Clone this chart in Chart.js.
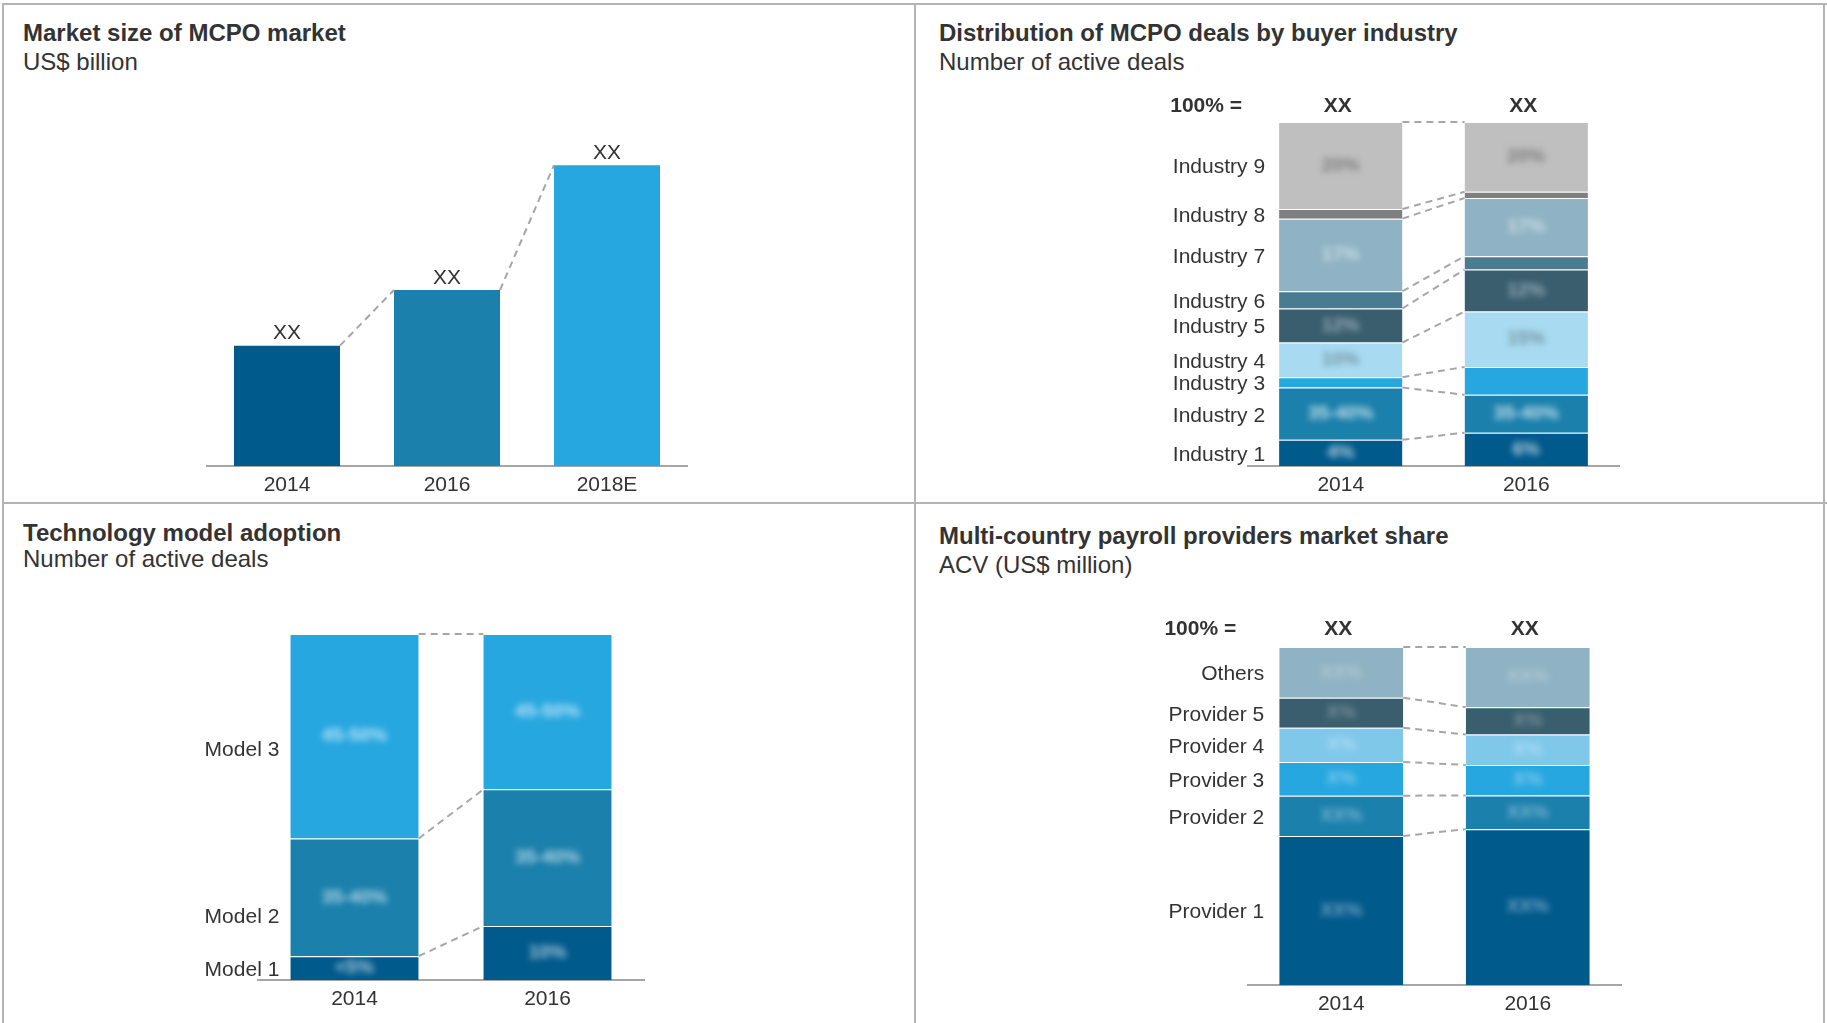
<!DOCTYPE html>
<html><head><meta charset="utf-8">
<script src="https://cdn.jsdelivr.net/npm/chart.js@4.4.0/dist/chart.umd.min.js"></script>
<style>
html,body{margin:0;padding:0;background:#fff;width:1827px;height:1023px;overflow:hidden;font-family:"Liberation Sans",Arial,sans-serif;color:#333}
.ln{position:absolute;background:#b4b4b4}
.t{position:absolute;font-weight:bold;font-size:24px;line-height:28px;white-space:nowrap;color:#333}
.s{position:absolute;font-size:24px;line-height:28px;white-space:nowrap;color:#333}
canvas{position:absolute}
</style></head><body>
<div class="ln" style="left:2px;top:3px;width:1825px;height:2px"></div>
<div class="ln" style="left:2px;top:3px;width:2px;height:1020px"></div>
<div class="ln" style="left:914px;top:3px;width:2px;height:1020px"></div>
<div class="ln" style="left:1823px;top:3px;width:2px;height:1020px"></div>
<div class="ln" style="left:2px;top:502px;width:1825px;height:2px"></div>

<div class="t" style="left:23px;top:19px">Market size of MCPO market</div>
<div class="s" style="left:23px;top:48px">US$ billion</div>
<div class="t" style="left:939px;top:19px">Distribution of MCPO deals by buyer industry</div>
<div class="s" style="left:939px;top:48px">Number of active deals</div>
<div class="t" style="left:23px;top:519px">Technology model adoption</div>
<div class="s" style="left:23px;top:545px">Number of active deals</div>
<div class="t" style="left:939px;top:522px">Multi-country payroll providers market share</div>
<div class="s" style="left:939px;top:551px">ACV (US$ million)</div>

<canvas id="c1" width="915" height="503" style="left:0;top:0"></canvas>
<canvas id="c2" width="911" height="503" style="left:916px;top:0"></canvas>
<canvas id="c3" width="915" height="519" style="left:0;top:504px"></canvas>
<canvas id="c4" width="911" height="519" style="left:916px;top:504px"></canvas>

<script>
// ---------- DATA ----------
// Panel 1: Market size of MCPO market (US$ billion, relative values)
const sizeYears = ['2014', '2016', '2018E'];
const sizeValues = [4.0, 5.85, 10.0];
const sizeValueLabels = ['XX', 'XX', 'XX'];
const sizeColors = ['#005a8c', '#1b80ac', '#27a7e0'];

// Panel 2: Distribution of MCPO deals by buyer industry (%)
const dealYears = ['2014', '2016'];
const dealTotals = ['XX', 'XX'];
const industries = ['Industry 1', 'Industry 2', 'Industry 3', 'Industry 4', 'Industry 5',
                    'Industry 6', 'Industry 7', 'Industry 8', 'Industry 9'];
const industry2014 = [7.6, 15.2, 3.0, 10.1, 9.9, 5.0, 21.1, 2.8, 25.3];
const industry2016 = [9.7, 11.0, 8.1, 16.1, 12.2, 3.9, 16.9, 1.8, 20.3];
const industryInner2014 = ['4%', '35-40%', '', '10%', '12%', '', '17%', '', '20%'];
const industryInner2016 = ['6%', '35-40%', '', '15%', '12%', '', '17%', '', '20%'];
const industryColors = ['#005a8c', '#1b80ac', '#27a7e0', '#a8dbf1', '#3a5e6e',
                        '#4a7b91', '#8fb3c4', '#7f7f7f', '#bfbfbf'];
const industryInnerColors = ['rgba(255,255,255,0.7)', 'rgba(255,255,255,0.75)', '#fff', 'rgba(90,110,120,0.65)',
                             'rgba(200,215,225,0.65)', '#fff', 'rgba(225,235,242,0.75)', '#fff', 'rgba(100,100,100,0.7)'];

// Panel 3: Technology model adoption (%)
const techYears = ['2014', '2016'];
const models = ['Model 1', 'Model 2', 'Model 3'];
const model2014 = [6.9, 34.0, 59.1];
const model2016 = [15.6, 39.5, 44.9];
const modelInner2014 = ['<5%', '35-40%', '45-50%'];
const modelInner2016 = ['10%', '35-40%', '45-50%'];
const modelColors = ['#005a8c', '#1b80ac', '#27a7e0'];
const modelInnerColors = ['rgba(255,255,255,0.65)', 'rgba(255,255,255,0.65)', 'rgba(220,240,252,0.8)'];

// Panel 4: Multi-country payroll providers market share (%)
const shareYears = ['2014', '2016'];
const shareTotals = ['XX', 'XX'];
const providers = ['Provider 1', 'Provider 2', 'Provider 3', 'Provider 4', 'Provider 5', 'Others'];
const provider2014 = [44.1, 11.9, 10.0, 10.1, 8.9, 15.0];
const provider2016 = [46.1, 10.0, 9.0, 9.0, 8.1, 17.8];
const providerInner2014 = ['XX%', 'XX%', 'X%', 'X%', 'X%', 'XX%'];
const providerInner2016 = ['XX%', 'XX%', 'X%', 'X%', 'X%', 'XX%'];
const providerColors = ['#005a8c', '#1b80ac', '#27a7e0', '#7fc8ea', '#3a5e6e', '#8fb3c4'];
const providerInnerColors = ['rgba(160,190,215,0.7)', 'rgba(160,200,225,0.7)', 'rgba(160,215,240,0.75)',
                             'rgba(185,225,245,0.8)', 'rgba(140,160,170,0.75)', 'rgba(185,205,215,0.8)'];

// ---------- HELPERS ----------
const FONT = '"Liberation Sans", Arial, sans-serif';
const TEXT = '#333333';
const DASH = '#a6a6a6';

const decoPlugin = {
  id: 'deco',
  afterDatasetsDraw(chart, args, o) {
    const ctx = chart.ctx;
    const n = chart.data.datasets.length;
    const nCat = chart.data.labels.length;
    const metas = [];
    for (let i = 0; i < n; i++) metas.push(chart.getDatasetMeta(i));
    ctx.save();
    // blurred inner percentage labels
    if (o.inner) {
      ctx.filter = 'blur(3px)';
      ctx.font = 'bold 19px ' + FONT;
      ctx.textAlign = 'center';
      ctx.textBaseline = 'middle';
      for (let k = 0; k < n; k++) {
        for (let j = 0; j < nCat; j++) {
          const txt = o.inner[j][k];
          if (!txt) continue;
          const el = metas[k].data[j];
          ctx.fillStyle = o.innerColors[k];
          ctx.fillText(txt, el.x, (el.y + el.base) / 2);
        }
      }
      ctx.filter = 'none';
    }
    // dashed connectors
    ctx.strokeStyle = DASH;
    ctx.lineWidth = 2;
    ctx.setLineDash([7, 5]);
    for (let k = 0; k < n; k++) {
      for (let j = 0; j < nCat - 1; j++) {
        const a = metas[k].data[j], b = metas[k].data[j + 1];
        ctx.beginPath();
        ctx.moveTo(a.x + a.width / 2, a.y);
        ctx.lineTo(b.x - b.width / 2, b.y);
        ctx.stroke();
      }
    }
    ctx.setLineDash([]);
    // value labels above bars
    if (o.valueLabels) {
      ctx.font = '21px ' + FONT;
      ctx.fillStyle = TEXT;
      ctx.textAlign = 'center';
      ctx.textBaseline = 'middle';
      metas[0].data.forEach((el, j) => ctx.fillText(o.valueLabels[j], el.x, el.y - 12));
    }
    // series labels on the left, centred on first bar's segments
    if (o.seriesLabels) {
      ctx.font = '21px ' + FONT;
      ctx.fillStyle = TEXT;
      ctx.textAlign = 'right';
      ctx.textBaseline = 'middle';
      for (let k = 0; k < n; k++) {
        const el = metas[k].data[0];
        const shift = (o.labelShift ? o.labelShift[k] : 0) + 2;
        ctx.fillText(o.seriesLabels[k], el.x - el.width / 2 - o.labelGap, (el.y + el.base) / 2 + shift);
      }
    }
    // 100% = header
    if (o.totals) {
      const top = metas[n - 1].data[0];
      const yy = top.y - o.headGap;
      ctx.font = 'bold 21px ' + FONT;
      ctx.fillStyle = TEXT;
      ctx.textBaseline = 'middle';
      ctx.textAlign = 'right';
      ctx.fillText('100% =', top.x - top.width / 2 - o.headLeft, yy);
      ctx.textAlign = 'center';
      for (let j = 0; j < nCat; j++) {
        const el = metas[n - 1].data[j];
        ctx.fillText(o.totals[j], el.x - 3, yy);
      }
    }
    ctx.restore();
  }
};

function baseOptions(padding, yMax, deco) {
  return {
    responsive: false,
    animation: false,
    events: [],
    layout: { padding: padding },
    plugins: { legend: { display: false }, tooltip: { enabled: false }, deco: deco },
    scales: {
      x: {
        stacked: true,
        offset: true,
        grid: { display: false, drawTicks: false },
        border: { display: true, color: '#a6a6a6', width: 2 },
        ticks: { color: TEXT, font: { family: FONT, size: 21 }, padding: 7 },
        afterFit(s) { s.height = 36; }
      },
      y: { stacked: true, display: false, min: 0, max: yMax }
    }
  };
}

function stackedDatasets(names, series, colors) {
  return names.map((name, k) => ({
    label: name,
    data: series.map(s => s[k]),
    backgroundColor: colors[k],
    borderColor: 'rgba(255,255,255,0.3)',
    borderWidth: { top: 1, left: 0, right: 0, bottom: 0 },
    borderSkipped: false,
    barPercentage: 0.665,
    categoryPercentage: 1.0,
    clip: false
  }));
}

// ---------- CHART 1 ----------
new Chart(document.getElementById('c1'), {
  type: 'bar',
  data: {
    labels: sizeYears,
    datasets: [{
      label: 'Market size',
      data: sizeValues,
      backgroundColor: sizeColors,
      borderWidth: 0,
      barPercentage: 0.6625,
      categoryPercentage: 1.0
    }]
  },
  options: baseOptions({ left: 207, right: 228, top: 120, bottom: 1 }, 11.5,
    { valueLabels: sizeValueLabels }),
  plugins: [decoPlugin]
});

// ---------- CHART 2 ----------
new Chart(document.getElementById('c2'), {
  type: 'bar',
  data: { labels: dealYears, datasets: stackedDatasets(industries, [industry2014, industry2016], industryColors) },
  options: baseOptions({ left: 332, right: 208, top: 122, bottom: 1 }, 100, {
    seriesLabels: industries, labelGap: 14,
    totals: dealTotals, headGap: 16, headLeft: 37,
    inner: [industryInner2014, industryInner2016], innerColors: industryInnerColors
  }),
  plugins: [decoPlugin]
});

// ---------- CHART 3 ----------
new Chart(document.getElementById('c3'), {
  type: 'bar',
  data: { labels: techYears, datasets: stackedDatasets(models, [model2014, model2016], modelColors) },
  options: baseOptions({ left: 258, right: 271, top: 130, bottom: 7 }, 100, {
    seriesLabels: models, labelGap: 11, labelShift: [0, 18, 12],
    inner: [modelInner2014, modelInner2016], innerColors: modelInnerColors
  }),
  plugins: [decoPlugin]
});

// ---------- CHART 4 ----------
new Chart(document.getElementById('c4'), {
  type: 'bar',
  data: { labels: shareYears, datasets: stackedDatasets(providers, [provider2014, provider2016], providerColors) },
  options: baseOptions({ left: 332, right: 206, top: 143, bottom: 2 }, 100, {
    seriesLabels: providers, labelGap: 15,
    totals: shareTotals, headGap: 18, headLeft: 43,
    inner: [providerInner2014, providerInner2016], innerColors: providerInnerColors
  }),
  plugins: [decoPlugin]
});
</script>
</body></html>
